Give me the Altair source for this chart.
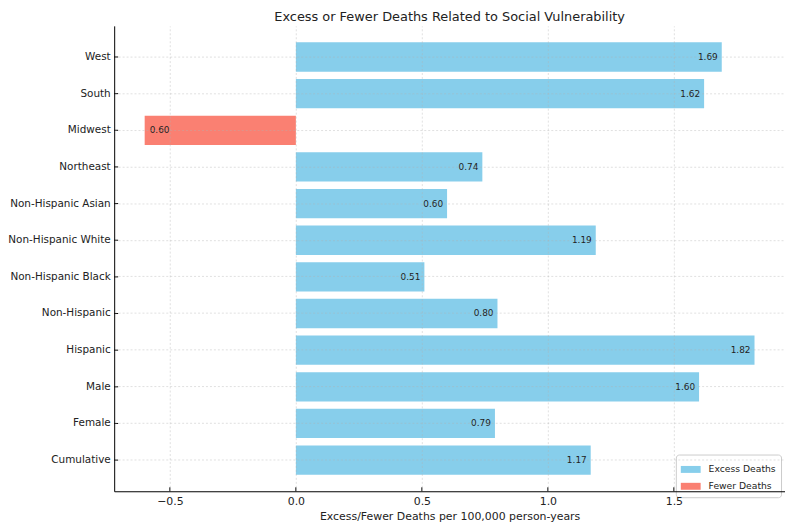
import altair as alt
import pandas as pd

categories = ["West", "South", "Midwest", "Northeast", "Non-Hispanic Asian",
              "Non-Hispanic White", "Non-Hispanic Black", "Non-Hispanic",
              "Hispanic", "Male", "Female", "Cumulative"]
values = [1.69, 1.62, -0.60, 0.74, 0.60, 1.19, 0.51, 0.80, 1.82, 1.60, 0.79, 1.17]
x_ticks = [-0.5, 0.0, 0.5, 1.0, 1.5]
legend_names = ["Excess Deaths", "Fewer Deaths"]
legend_colors = ["#87CEEB", "#FA8072"]

df = pd.DataFrame({
    "category": categories,
    "value": values,
    "kind": [legend_names[0] if v > 0 else legend_names[1] for v in values],
    "label": [f"{abs(v):.2f}" for v in values],
})
ticks_df = pd.DataFrame({"t": x_ticks})

W, H = 676, 469
FONT = "DejaVu Sans"

xscale = alt.Scale(domain=[-0.721, 1.941], nice=False, zero=False)
yscale = alt.Scale(domain=categories, paddingInner=0.2, paddingOuter=0.45)

x_axis = alt.Axis(values=x_ticks, format=".1f", grid=True, tickSize=0,
                  labelPadding=4, title="Excess/Fewer Deaths per 100,000 person-years",
                  titlePadding=4, zindex=1)
y_axis = alt.Axis(grid=True, tickSize=0, labelPadding=4, title=None, zindex=1,
                  labelFontSize=10.5)

bars = alt.Chart(df).mark_bar().encode(
    x=alt.X("value:Q", scale=xscale, axis=x_axis),
    x2=alt.datum(0),
    y=alt.Y("category:N", scale=yscale, axis=y_axis, sort=categories),
    color=alt.Color("kind:N",
                    scale=alt.Scale(domain=legend_names, range=legend_colors),
                    legend=alt.Legend(title=None, orient="none", legendX=566, legendY=432,
                                      symbolType="M-1,-0.35H1V0.35H-1Z", symbolSize=400,
                                      symbolStrokeWidth=0, labelFontSize=9.3,
                                      labelOffset=8,
                                      fillColor="white", strokeColor="#cccccc",
                                      padding=5, cornerRadius=3, rowPadding=1,
                                      labelFont=FONT, labelColor="#222222")),
)

text_pos = alt.Chart(df).transform_filter("datum.value > 0").mark_text(
    align="right", baseline="middle", dx=-4, fontSize=9, font=FONT, color="#222222"
).encode(
    x=alt.X("value:Q", scale=xscale),
    y=alt.Y("category:N", scale=yscale, sort=categories),
    text="label:N",
)

text_neg = alt.Chart(df).transform_filter("datum.value < 0").mark_text(
    align="left", baseline="middle", dx=5, fontSize=9, font=FONT, color="#222222"
).encode(
    x=alt.X("value:Q", scale=xscale),
    y=alt.Y("category:N", scale=yscale, sort=categories),
    text="label:N",
)

xticks = alt.Chart(ticks_df).mark_rule(color="black", strokeWidth=1).encode(
    x=alt.X("t:Q", scale=xscale),
    y=alt.value(H),
    y2=alt.value(H - 4),
)

yticks = alt.Chart(df).mark_rule(color="black", strokeWidth=1).encode(
    y=alt.Y("category:N", scale=yscale, sort=categories),
    x=alt.value(0),
    x2=alt.value(4),
)

chart = alt.layer(bars, text_pos, text_neg, xticks, yticks).properties(
    width=W, height=H,
    title=alt.TitleParams("Excess or Fewer Deaths Related to Social Vulnerability",
                          fontSize=13, font=FONT, fontWeight="normal",
                          color="#222222", offset=2),
    autosize=alt.AutoSizeParams(type="none"),
    padding={"left": 107, "top": 16, "right": 0, "bottom": 30},
).configure_view(stroke=None).configure_axis(
    labelFont=FONT, titleFont=FONT, labelFontSize=11, titleFontSize=11,
    titleFontWeight="normal", labelColor="#222222", titleColor="#222222",
    domainColor="black", domainWidth=1,
    gridColor="#b0b0b0", gridOpacity=0.5, gridDash=[2, 2], gridWidth=0.8,
)

chart.save("out.html", embed_options={"renderer": "svg", "actions": False})
